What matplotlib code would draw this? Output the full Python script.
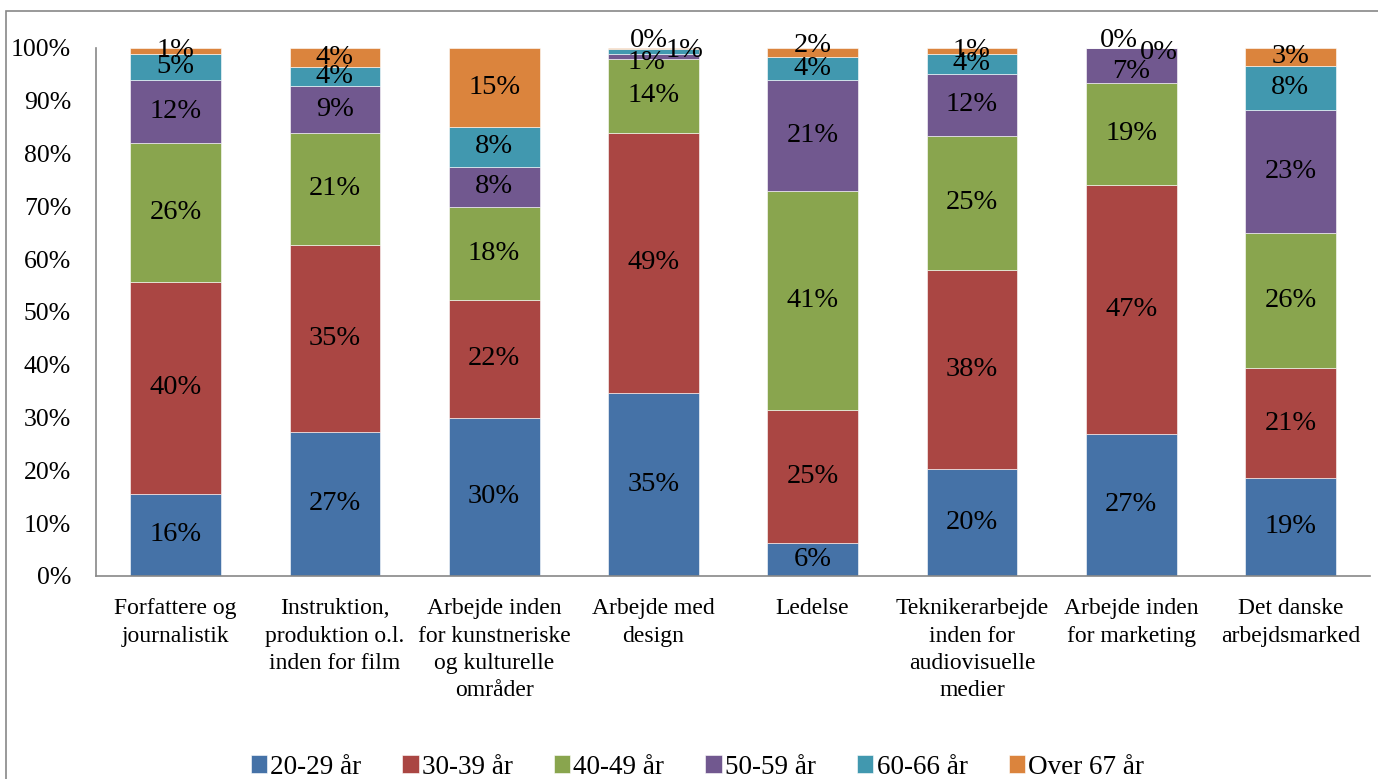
import numpy as np
import matplotlib.pyplot as plt
from matplotlib.patches import Rectangle

plt.rcParams['font.family'] = ['Liberation Serif', 'DejaVu Serif']

categories = ["Forfattere og\njournalistik",
              "Instruktion,\nproduktion o.l.\ninden for film",
              "Arbejde inden\nfor kunstneriske\nog kulturelle\nområder",
              "Arbejde med\ndesign",
              "Ledelse",
              "Teknikerarbejde\ninden for\naudiovisuelle\nmedier",
              "Arbejde inden\nfor marketing",
              "Det danske\narbejdsmarked"]
series = ["20-29 år", "30-39 år", "40-49 år", "50-59 år", "60-66 år", "Over 67 år"]

age_20_29 = [15.6, 27.3, 30.0, 34.7, 6.2, 20.2, 26.9, 18.6]
age_30_39 = [40.1, 35.4, 22.2, 49.2, 25.3, 37.8, 47.2, 20.7]
age_40_49 = [26.3, 21.2, 17.7, 14.1, 41.4, 25.4, 19.3, 25.7]
age_50_59 = [11.9, 8.9, 7.6, 0.8, 21.1, 11.7, 6.6, 23.3]
age_60_66 = [5.0, 3.6, 7.6, 1.0, 4.2, 3.8, 0.0, 8.3]
age_67 = [1.1, 3.6, 14.9, 0.2, 1.8, 1.1, 0.0, 3.4]

colors = ["#4572A7", "#AA4643", "#89A54E", "#71588F", "#4198AF", "#DB843D"]

data = [age_20_29, age_30_39, age_40_49, age_50_59, age_60_66, age_67]

# manual placement for crowded labels: (series, bar) -> (x offset, y position)
label_moves = {
    (5, 3): (-0.03, 101.5), (4, 3): (0.195, 99.6), (3, 3): (-0.045, 97.2),
    (5, 6): (-0.075, 101.5), (4, 6): (0.176, 99.2), (3, 6): (0.0, 95.5),
    (5, 4): (0.0, 100.5),
}

fig = plt.figure(figsize=(13.78, 7.79), dpi=100)
ax = fig.add_axes([0.0697, 0.2606, 0.9245, 0.6778])

x = np.arange(len(categories))
bottom = np.zeros(len(categories))
width = 0.57
for i, vals in enumerate(data):
    vals = np.array(vals)
    ax.bar(x, vals, width, bottom=bottom, color=colors[i], label=series[i],
           edgecolor='white', linewidth=0.4, zorder=2)
    for j, v in enumerate(vals):
        px, py = x[j], bottom[j] + v / 2
        if (i, j) in label_moves:
            dx, py = label_moves[(i, j)]
            px = x[j] + dx
        ax.text(px, py, "{:.0f}%".format(v), ha='center', va='center',
                fontsize=20.5, clip_on=False, zorder=3)
    bottom += vals

ax.set_xlim(-0.5, len(categories) - 0.5)
ax.set_ylim(0, 100)
ax.set_yticks(np.arange(0, 101, 10))
ax.set_yticklabels(["{}%".format(t) for t in range(0, 101, 10)])
ax.set_xticks(x)
ax.set_xticklabels(categories, linespacing=1.4)
ax.tick_params(axis='y', length=0, pad=18, labelsize=18.5)
ax.tick_params(axis='x', length=0, pad=16, labelsize=17)
for s in ['top', 'right']:
    ax.spines[s].set_visible(False)
for s in ['left', 'bottom']:
    ax.spines[s].set_color('#888888')
    ax.spines[s].set_linewidth(1.2)

ax.legend(loc='center', bbox_to_anchor=(0.506, 12 / 779),
          bbox_transform=fig.transFigure, ncol=6, frameon=False,
          fontsize=19.5, handlelength=0.6, handleheight=0.6,
          handletextpad=0.12, columnspacing=1.52)

fig.patches.append(Rectangle((6 / 1378, -0.1), 1.2, 1 - 11 / 779 + 0.1,
                             transform=fig.transFigure, fill=False,
                             edgecolor='#888888', linewidth=1.2))

fig.savefig("out.png", dpi=100)
